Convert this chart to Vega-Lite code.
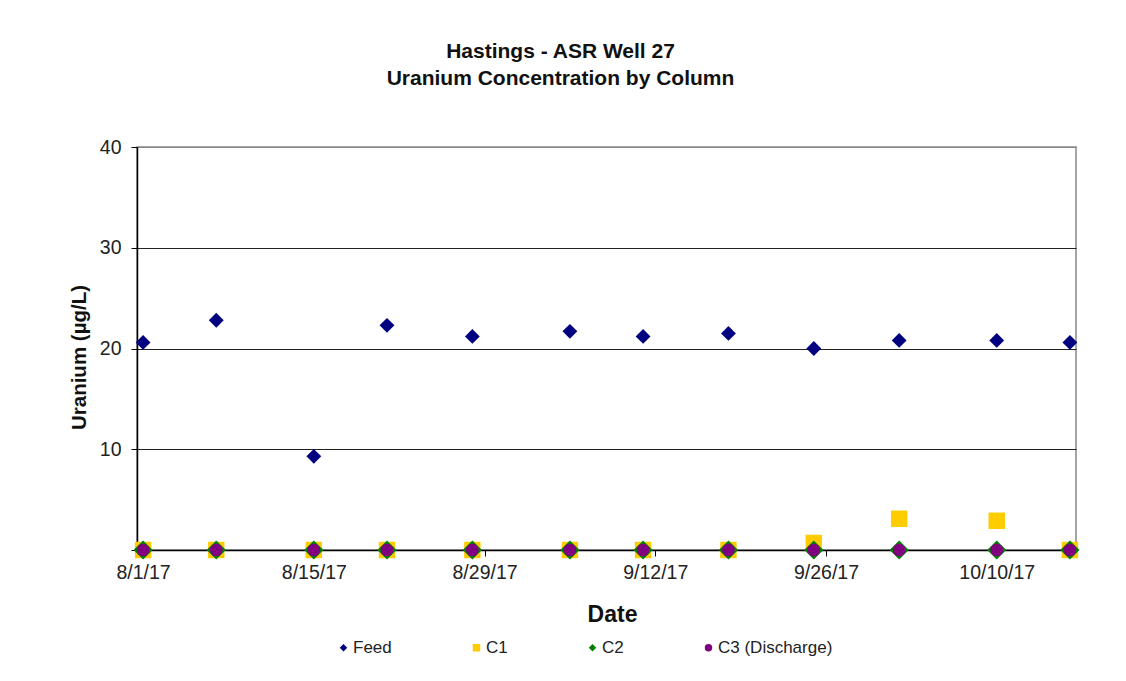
{
  "$schema": "https://vega.github.io/schema/vega-lite/v6.json",
  "width": 939,
  "height": 403,
  "autosize": {"type": "none"},
  "padding": {"left": 137, "top": 147, "right": 50, "bottom": 131},
  "background": "white",
  "title": {
    "text": ["Hastings - ASR Well 27", "Uranium Concentration by Column"],
    "font": "Liberation Sans",
    "fontSize": 21,
    "fontWeight": "bold",
    "color": "#111",
    "anchor": "middle",
    "frame": "group",
    "dx": -46,
    "offset": 48,
    "lineHeight": 27
  },
  "config": {
    "view": {"stroke": "#888", "strokeWidth": 1.5},
    "font": "Liberation Sans",
    "legend": {
      "orient": "none",
      "legendX": 198,
      "legendY": 492,
      "direction": "horizontal",
      "columnPadding": 76,
      "symbolSize": 56,
      "labelFontSize": 17,
      "labelFont": "Liberation Sans",
      "labelColor": "#222",
      "labelOffset": 1,
      "symbolStrokeWidth": 0,
      "padding": 0,
      "title": null
    }
  },
  "data": {
    "values": [
      {"series": "Feed", "date": "2017-08-01", "value": 20.6},
      {"series": "Feed", "date": "2017-08-07", "value": 22.8},
      {"series": "Feed", "date": "2017-08-15", "value": 9.3},
      {"series": "Feed", "date": "2017-08-21", "value": 22.3},
      {"series": "Feed", "date": "2017-08-28", "value": 21.2},
      {"series": "Feed", "date": "2017-09-05", "value": 21.7},
      {"series": "Feed", "date": "2017-09-11", "value": 21.2},
      {"series": "Feed", "date": "2017-09-18", "value": 21.5},
      {"series": "Feed", "date": "2017-09-25", "value": 20.0},
      {"series": "Feed", "date": "2017-10-02", "value": 20.8},
      {"series": "Feed", "date": "2017-10-10", "value": 20.8},
      {"series": "Feed", "date": "2017-10-16", "value": 20.6},
      {"series": "C1", "date": "2017-08-01", "value": 0},
      {"series": "C1", "date": "2017-08-07", "value": 0},
      {"series": "C1", "date": "2017-08-15", "value": 0},
      {"series": "C1", "date": "2017-08-21", "value": 0},
      {"series": "C1", "date": "2017-08-28", "value": 0},
      {"series": "C1", "date": "2017-09-05", "value": 0},
      {"series": "C1", "date": "2017-09-11", "value": 0},
      {"series": "C1", "date": "2017-09-18", "value": 0},
      {"series": "C1", "date": "2017-09-25", "value": 0.7},
      {"series": "C1", "date": "2017-10-02", "value": 3.1},
      {"series": "C1", "date": "2017-10-10", "value": 2.9},
      {"series": "C1", "date": "2017-10-16", "value": 0},
      {"series": "C2", "date": "2017-08-01", "value": 0},
      {"series": "C2", "date": "2017-08-07", "value": 0},
      {"series": "C2", "date": "2017-08-15", "value": 0},
      {"series": "C2", "date": "2017-08-21", "value": 0},
      {"series": "C2", "date": "2017-08-28", "value": 0},
      {"series": "C2", "date": "2017-09-05", "value": 0},
      {"series": "C2", "date": "2017-09-11", "value": 0},
      {"series": "C2", "date": "2017-09-18", "value": 0},
      {"series": "C2", "date": "2017-09-25", "value": 0},
      {"series": "C2", "date": "2017-10-02", "value": 0},
      {"series": "C2", "date": "2017-10-10", "value": 0},
      {"series": "C2", "date": "2017-10-16", "value": 0},
      {"series": "C3 (Discharge)", "date": "2017-08-01", "value": 0},
      {"series": "C3 (Discharge)", "date": "2017-08-07", "value": 0},
      {"series": "C3 (Discharge)", "date": "2017-08-15", "value": 0},
      {"series": "C3 (Discharge)", "date": "2017-08-21", "value": 0},
      {"series": "C3 (Discharge)", "date": "2017-08-28", "value": 0},
      {"series": "C3 (Discharge)", "date": "2017-09-05", "value": 0},
      {"series": "C3 (Discharge)", "date": "2017-09-11", "value": 0},
      {"series": "C3 (Discharge)", "date": "2017-09-18", "value": 0},
      {"series": "C3 (Discharge)", "date": "2017-09-25", "value": 0},
      {"series": "C3 (Discharge)", "date": "2017-10-02", "value": 0},
      {"series": "C3 (Discharge)", "date": "2017-10-10", "value": 0},
      {"series": "C3 (Discharge)", "date": "2017-10-16", "value": 0}
    ]
  },
  "encoding": {
    "x": {
      "field": "date",
      "type": "temporal",
      "scale": {
        "type": "utc",
        "domain": [
          {"year": 2017, "month": 7, "date": 31, "hours": 12, "utc": true},
          {"year": 2017, "month": 10, "date": 16, "hours": 12, "utc": true}
        ]
      },
      "axis": {
        "values": [
          {"year": 2017, "month": 8, "date": 1, "utc": true},
          {"year": 2017, "month": 8, "date": 15, "utc": true},
          {"year": 2017, "month": 8, "date": 29, "utc": true},
          {"year": 2017, "month": 9, "date": 12, "utc": true},
          {"year": 2017, "month": 9, "date": 26, "utc": true},
          {"year": 2017, "month": 10, "date": 10, "utc": true}
        ],
        "format": "%-m/%-d/%y",
        "title": "Date",
        "titleFontSize": 23,
        "titleFontWeight": "bold",
        "titleColor": "#111",
        "titlePadding": 22,
        "titleX": 475,
        "labelFontSize": 19.5,
        "labelColor": "#222",
        "labelPadding": 7,
        "labelFlush": false,
        "labelOverlap": false,
        "tickSize": 6,
        "tickColor": "#000",
        "domainColor": "#000",
        "domainWidth": 1.5,
        "grid": false
      }
    },
    "y": {
      "field": "value",
      "type": "quantitative",
      "scale": {"domain": [0, 40], "nice": false},
      "axis": {
        "values": [0, 10, 20, 30, 40],
        "labelExpr": "datum.value == 0 ? '' : datum.label",
        "title": "Uranium (µg/L)",
        "titleFontSize": 20.5,
        "titleFontWeight": "bold",
        "titleColor": "#111",
        "titlePadding": 10,
        "titleY": 210,
        "labelFontSize": 19.5,
        "labelColor": "#222",
        "labelPadding": 10,
        "tickSize": 6,
        "tickColor": "#000",
        "domainColor": "#000",
        "domainWidth": 1.5,
        "grid": true,
        "gridColor": {"condition": {"test": "datum.value == 40", "value": "#888"}, "value": "#222"},
        "gridWidth": 1.2
      }
    },
    "color": {
      "field": "series",
      "type": "nominal",
      "scale": {
        "domain": ["Feed", "C1", "C2", "C3 (Discharge)"],
        "range": ["#000080", "#FFCC00", "#008000", "#800080"]
      },
      "legend": {"title": null}
    },
    "shape": {
      "field": "series",
      "type": "nominal",
      "scale": {
        "domain": ["Feed", "C1", "C2", "C3 (Discharge)"],
        "range": ["diamond", "square", "diamond", "circle"]
      },
      "legend": {"title": null}
    }
  },
  "layer": [
    {
      "transform": [{"filter": "datum.series == 'Feed'"}],
      "mark": {"type": "point", "filled": true, "opacity": 1, "clip": false, "size": 220}
    },
    {
      "transform": [{"filter": "datum.series == 'C1'"}],
      "mark": {"type": "point", "filled": true, "opacity": 1, "clip": false, "size": 270}
    },
    {
      "transform": [{"filter": "datum.series == 'C2'"}],
      "mark": {"type": "point", "filled": true, "opacity": 1, "clip": false, "size": 370}
    },
    {
      "transform": [{"filter": "datum.series == 'C3 (Discharge)'"}],
      "mark": {"type": "point", "filled": true, "opacity": 1, "clip": false, "size": 160}
    }
  ]
}
